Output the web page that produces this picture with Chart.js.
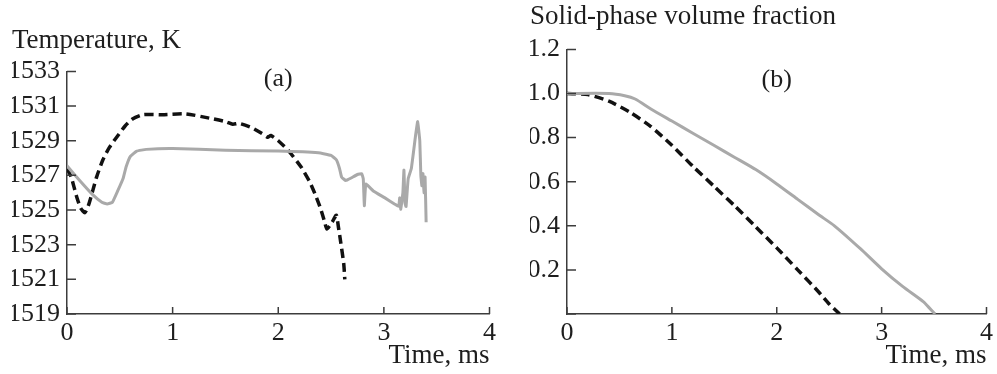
<!DOCTYPE html>
<html>
<head>
<meta charset="utf-8">
<script src="https://cdn.jsdelivr.net/npm/chart.js@4"></script>
<style>
  body { margin: 0; background: #fff; }
  #wrap { position: relative; width: 997px; height: 374px; }
  canvas { position: absolute; top: 0; }
  #temperature { left: 0; }
  #fraction { left: 500px; }
</style>
</head>
<body>
<div id="wrap">
  <canvas id="temperature" width="500" height="374"></canvas>
  <canvas id="fraction" width="497" height="374"></canvas>
</div>
<script>
// tick values
const timeTicks = [0, 1, 2, 3, 4];
const tempTicks = [1519, 1521, 1523, 1525, 1527, 1529, 1531, 1533];
const fractionTicks = [0, 0.2, 0.4, 0.6, 0.8, 1.0, 1.2];

// (a) temperature, dashed curve
const dashedTempTime = [0.00, 0.04, 0.09, 0.13, 0.17, 0.21, 0.28, 0.34, 0.40, 0.47, 0.55, 0.62, 0.72, 0.90, 1.12, 1.35, 1.50, 1.57, 1.63, 1.75, 1.85, 1.90, 1.93, 2.00, 2.10, 2.22, 2.30, 2.35, 2.40, 2.44, 2.46, 2.51, 2.55, 2.57, 2.59, 2.62, 2.63];
const dashedTempValue = [1527.4, 1526.9, 1525.8, 1525.1, 1524.85, 1525.4, 1526.9, 1527.9, 1528.6, 1529.2, 1529.85, 1530.25, 1530.5, 1530.5, 1530.55, 1530.3, 1530.1, 1529.95, 1530.0, 1529.75, 1529.4, 1529.2, 1529.3, 1529.0, 1528.4, 1527.45, 1526.6, 1525.9, 1525.1, 1524.3, 1523.9, 1524.3, 1524.7, 1524.0, 1523.2, 1521.9, 1521.0];

// (a) temperature, solid gray curve
const solidTempTime = [0.00, 0.12, 0.24, 0.33, 0.38, 0.43, 0.48, 0.53, 0.56, 0.60, 0.66, 0.75, 1.00, 1.50, 2.00, 2.38, 2.50, 2.55, 2.58, 2.60, 2.64, 2.69, 2.75, 2.79, 2.805, 2.815, 2.83, 2.90, 3.01, 3.10, 3.14, 3.15, 3.16, 3.18, 3.19, 3.20, 3.21, 3.23, 3.26, 3.30, 3.32, 3.34, 3.35, 3.36, 3.37, 3.38, 3.39, 3.40];
const solidTempValue = [1527.55, 1526.7, 1525.9, 1525.45, 1525.35, 1525.45, 1526.1, 1526.8, 1527.5, 1528.1, 1528.4, 1528.5, 1528.55, 1528.45, 1528.4, 1528.3, 1528.15, 1527.9, 1527.4, 1526.9, 1526.7, 1526.85, 1527.05, 1527.1, 1526.8, 1525.25, 1526.5, 1526.1, 1525.7, 1525.35, 1525.2, 1525.7, 1525.05, 1526.0, 1527.3, 1525.4, 1525.2, 1526.8, 1527.4, 1529.3, 1530.1, 1529.0, 1527.0, 1526.4, 1527.1, 1526.0, 1526.9, 1524.3];

// (b) solid-phase fraction, dashed curve
const dashedFracTime = [0.0, 0.2, 0.4, 0.6, 0.8, 1.0, 1.2, 1.4, 1.6, 1.8, 2.0, 2.2, 2.4, 2.5, 2.6];
const dashedFracValue = [1.0, 0.995, 0.965, 0.915, 0.85, 0.765, 0.67, 0.58, 0.49, 0.395, 0.30, 0.20, 0.10, 0.045, 0.0];

// (b) solid-phase fraction, solid gray curve
const solidFracTime = [0.0, 0.4, 0.55, 0.65, 0.8, 1.0, 1.2, 1.4, 1.6, 1.8, 2.0, 2.2, 2.4, 2.55, 2.8, 3.0, 3.2, 3.4, 3.45, 3.51];
const solidFracValue = [1.0, 1.0, 0.99, 0.975, 0.93, 0.875, 0.82, 0.765, 0.71, 0.655, 0.59, 0.52, 0.45, 0.40, 0.295, 0.205, 0.125, 0.055, 0.03, 0.0];

// panel markers (text, time, value)
const panelA = ["(a)", 2.0, 1532.55];
const panelB = ["(b)", 2.0, 1.06];

const fontFamily = "'Liberation Serif', 'Times New Roman', serif";
const axisColor = "#3c3c3c";
const textColor = "#1e1e1e";

Chart.defaults.font.family = fontFamily;
Chart.defaults.font.size = 26;
Chart.defaults.color = textColor;

function toPoints(xs, ys) {
    return xs.map((x, i) => ({x: x, y: ys[i]}));
}

// tick marks pointing into the plot, plus the panel letter
const innerTicks = {
    id: "innerTicks",
    afterDraw(chart, args, opts) {
        const ctx = chart.ctx;
        const area = chart.chartArea;
        const xs = chart.scales.x;
        const ys = chart.scales.y;
        ctx.save();
        ctx.strokeStyle = axisColor;
        ctx.lineWidth = 1.5;
        ctx.beginPath();
        for (const t of ys.ticks) {
            const py = ys.getPixelForValue(t.value);
            ctx.moveTo(area.left, py);
            ctx.lineTo(area.left + 9, py);
        }
        for (const t of xs.ticks) {
            const px = xs.getPixelForValue(t.value);
            ctx.moveTo(px, area.bottom);
            ctx.lineTo(px, area.bottom - 7);
        }
        ctx.stroke();
        if (opts.label) {
            ctx.fillStyle = textColor;
            ctx.font = "26px " + fontFamily;
            ctx.textAlign = "center";
            ctx.textBaseline = "middle";
            ctx.fillText(opts.label[0], xs.getPixelForValue(opts.label[1]), ys.getPixelForValue(opts.label[2]));
        }
        ctx.restore();
    }
};

function makeChart(id, datasets, cfg) {
    return new Chart(id, {
        type: "scatter",
        data: {datasets: datasets},
        options: {
            responsive: false,
            animation: false,
            layout: {padding: {left: cfg.leftPad, right: 8, top: 0, bottom: 0}},
            plugins: {
                legend: {display: false},
                tooltip: {enabled: false},
                title: {
                    display: true,
                    text: cfg.title,
                    align: "start",
                    color: textColor,
                    font: {size: 27, weight: "normal", family: fontFamily},
                    padding: cfg.titlePadding,
                },
                innerTicks: {label: cfg.label},
            },
            scales: {
                x: {
                    type: "linear",
                    min: 0,
                    max: 4,
                    afterBuildTicks: s => { s.ticks = timeTicks.map(v => ({value: v})); },
                    afterFit: s => { s.height = 60; },
                    grid: {display: true, drawOnChartArea: false, drawTicks: false},
                    border: {display: true, color: axisColor, width: 1.5},
                    ticks: {padding: 4, callback: v => String(v)},
                    title: {
                        display: true,
                        text: "Time, ms",
                        align: "end",
                        font: {size: 27, family: fontFamily},
                        padding: {top: 0, bottom: 2},
                    },
                },
                y: {
                    type: "linear",
                    min: cfg.yMin,
                    max: cfg.yMax,
                    afterBuildTicks: s => { s.ticks = cfg.yTicks.map(v => ({value: v})); },
                    afterFit: s => { s.width = 67 - cfg.leftPad; },
                    grid: {display: true, drawOnChartArea: false, drawTicks: false},
                    border: {display: true, color: axisColor, width: 1.5},
                    ticks: {padding: 7, callback: cfg.format},
                },
            },
        },
        plugins: [innerTicks],
    });
}

function dashedSet(points) {
    return {
        data: points,
        showLine: true,
        borderColor: "#111111",
        borderWidth: 3.5,
        borderDash: [9, 5],
        pointRadius: 0,
        tension: 0.2,
    };
}

function solidSet(points, tension) {
    return {
        data: points,
        showLine: true,
        borderColor: "#a9a9a9",
        borderWidth: 3,
        pointRadius: 0,
        tension: tension,
    };
}

makeChart("temperature", [
    solidSet(toPoints(solidTempTime, solidTempValue), 0.1),
    dashedSet(toPoints(dashedTempTime, dashedTempValue)),
], {
    title: "Temperature, K",
    titlePadding: {top: 25, bottom: 14},
    leftPad: 12,
    yMin: 1519,
    yMax: 1533,
    yTicks: tempTicks,
    format: v => String(v),
    label: panelA,
});

makeChart("fraction", [
    solidSet(toPoints(solidFracTime, solidFracValue), 0.2),
    dashedSet(toPoints(dashedFracTime, dashedFracValue)),
], {
    title: "Solid-phase volume fraction",
    titlePadding: {top: 1, bottom: 16},
    leftPad: 30,
    yMin: 0,
    yMax: 1.2,
    yTicks: fractionTicks,
    format: v => (v === 0 ? "" : v.toFixed(1)),
    label: panelB,
});
</script>
</body>
</html>
